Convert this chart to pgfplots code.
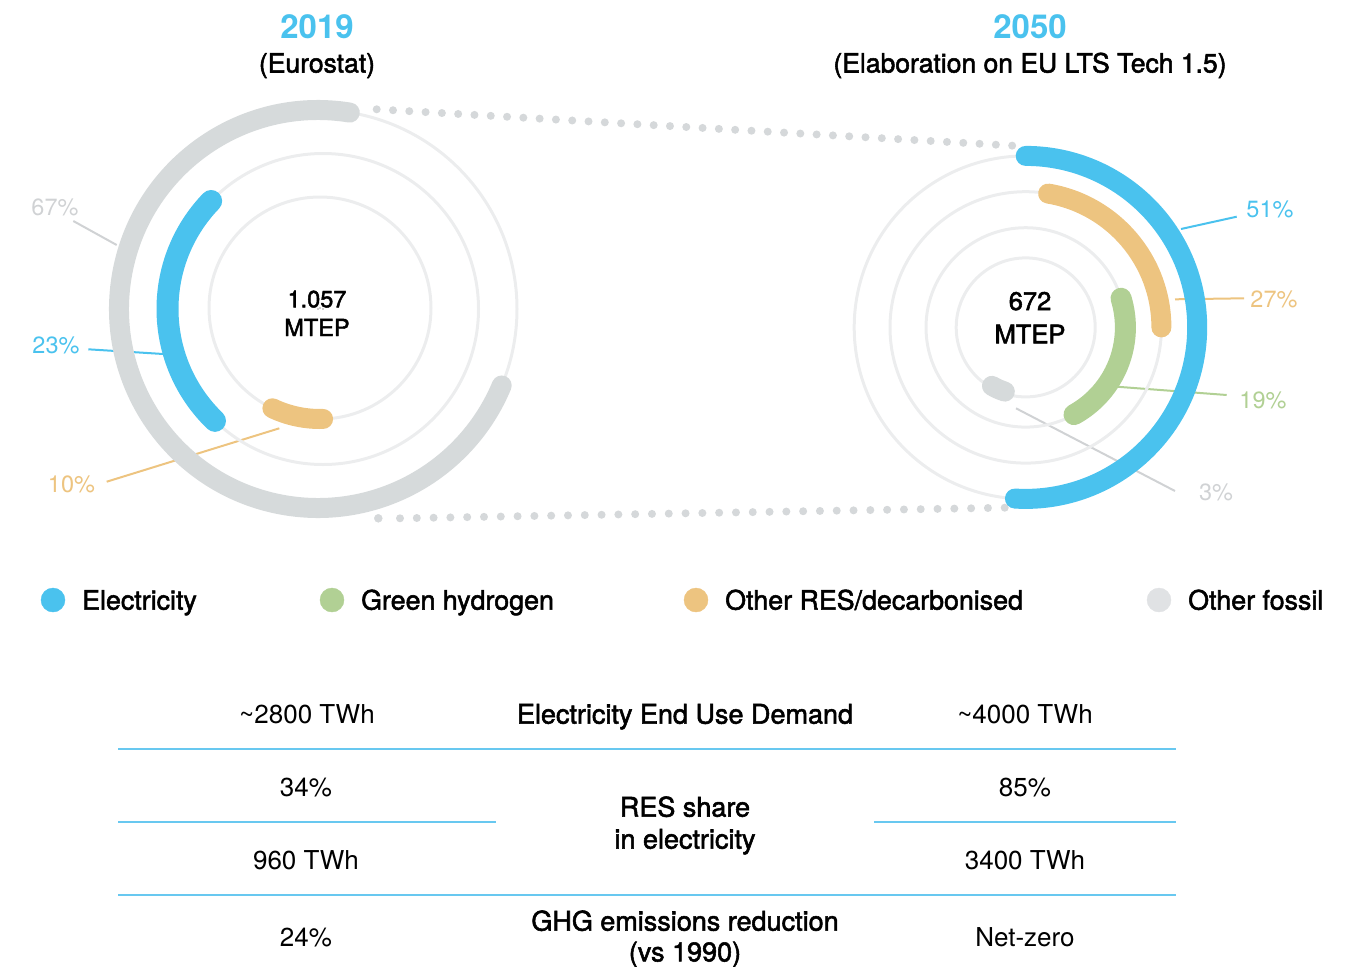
\documentclass[border=0pt]{standalone}
\usepackage{pgfplots}
\pgfplotsset{compat=1.18}
\usepackage{pgfplotstable}
\usepackage{fontspec}
\setmainfont{TeX Gyre Heros}
\newfontfamily\medfont[FakeBold=2]{TeX Gyre Heros}

\definecolor{elblue}{RGB}{74,194,238}
\definecolor{h2green}{RGB}{177,208,148}
\definecolor{resorange}{RGB}{237,196,128}
\definecolor{fosgray}{RGB}{214,218,219}
\definecolor{track}{RGB}{236,237,238}
\definecolor{labgray}{RGB}{208,210,212}
\definecolor{dotgray}{RGB}{213,216,218}
\definecolor{leggray}{RGB}{224,226,228}
\definecolor{tableblue}{RGB}{104,200,240}
% colour index used in the ring tables
\colorlet{arccol0}{track}
\colorlet{arccol1}{elblue}
\colorlet{arccol2}{h2green}
\colorlet{arccol3}{resorange}
\colorlet{arccol4}{fosgray}

% ring arcs: centre (x,y), radius r, start angle a, end angle b, width w, colour index c
\pgfplotstableread{
x      y      r      a      b      w   c  share
318    309    199    0      360    3   0  0
323    309    155.5  0      360    3   0  0
320    308    111    0      360    3   0  0
318    309    199    80.8   337.4  20  4  67
323    309    155.5  136    226    22  1  23
320    308    111    244.6  271.6  20  3  10
}\leftarcs

\pgfplotstableread{
x       y      r      a      b      w   c  share
1025.7  327.4  171.5  0      360    3   0  0
1025.7  327.4  135.7  0      360    3   0  0
1025.7  327.4  99.7   0      360    3   0  0
1025.7  327.4  69.5   0      360    3   0  0
1025.7  327.4  171.5  90     -93.6  20  1  51
1025.7  327.4  135.7  80.5   0      20  3  27
1025.7  327.4  99.7   17     -61    21  2  19
1025.7  327.4  67.5   -120   -108   20  4  3
}\rightarcs

\pgfplotsset{
  arcplot/.style={
    scatter, only marks, mark=*, mark size=0.01pt,
    mark options={draw=none,fill=none},
    visualization depends on={\thisrow{r} \as \arcr},
    visualization depends on={\thisrow{a} \as \arca},
    visualization depends on={\thisrow{b} \as \arcb},
    visualization depends on={\thisrow{w} \as \arcw},
    visualization depends on={\thisrow{c} \as \arcc},
    scatter/@pre marker code/.code={%
      \pgfmathtruncatemacro\arcci{\arcc}%
      \draw[draw=arccol\arcci, fill=none, line width=\arcw pt, line cap=round]
        (\arca:\arcr pt) arc[start angle=\arca, end angle=\arcb, radius=\arcr pt];
      \begin{scope}},
    scatter/@post marker code/.code={\end{scope}},
  },
}

\begin{document}
\begin{tikzpicture}
\begin{axis}[
  name=main,
  x=1pt, y=1pt,
  xmin=0, xmax=1361, ymin=0, ymax=967,
  y dir=reverse,
  hide axis, clip=false,
]
% rings
\addplot[arcplot] table[x=x,y=y] {\leftarcs};
\addplot[arcplot] table[x=x,y=y] {\rightarcs};

% dotted connectors
\addplot[dotgray, line width=8pt, line cap=round, dash pattern=on 0pt off 16.32pt]
  coordinates {(376.7,109.3) (1013.3,145.7)};
\addplot[dotgray, line width=8pt, line cap=round, dash pattern=on 0pt off 16.8pt]
  coordinates {(400,518.3) (1005,507.7)};
\addplot[only marks, mark=*, mark size=4pt, dotgray] coordinates {(378.3,518.3)};

% leader lines
\addplot[labgray, line width=2pt] coordinates {(73.3,221) (116.7,245)};
\addplot[elblue, line width=2pt] coordinates {(88.3,349.3) (163.3,354)};
\addplot[resorange, line width=2pt] coordinates {(106.7,481.7) (279.3,428.3)};
\addplot[elblue, line width=2pt] coordinates {(1181,229) (1236.7,216.7)};
\addplot[resorange, line width=2pt] coordinates {(1175,299.3) (1244,298.3)};
\addplot[h2green, line width=2pt] coordinates {(1116.7,386.7) (1226.7,395)};
\addplot[labgray, line width=2pt] coordinates {(1016,408.3) (1175,491)};

% percentage labels
\node[anchor=base, font=\fontsize{23.5}{28}\selectfont, text=labgray] at (55,215.5) {67\%};
\node[anchor=base, font=\fontsize{23.5}{28}\selectfont, text=elblue] at (56,353.3) {23\%};
\node[anchor=base, font=\fontsize{23.5}{28}\selectfont, text=resorange] at (71.5,492) {10\%};
\node[anchor=base, font=\fontsize{23.5}{28}\selectfont, text=elblue] at (1270,217) {51\%};
\node[anchor=base, font=\fontsize{23.5}{28}\selectfont, text=resorange] at (1274,307) {27\%};
\node[anchor=base, font=\fontsize{23.5}{28}\selectfont, text=h2green] at (1263,408) {19\%};
\node[anchor=base, font=\fontsize{23.5}{28}\selectfont, text=labgray] at (1216,500) {3\%};

% centre texts
\node[anchor=base, font=\fontsize{23.5}{28}\selectfont\medfont] at (317,307.3) {1.057};
\node[anchor=base, font=\fontsize{23.5}{28}\selectfont\medfont] at (317,336) {MTEP};
\node[anchor=base, font=\fontsize{25.5}{30}\selectfont\medfont] at (1030,310) {672};
\node[anchor=base, font=\fontsize{25.5}{30}\selectfont\medfont] at (1030,343.3) {MTEP};

% titles
\node[anchor=base, font=\fontsize{33}{38}\selectfont\bfseries, text=elblue] at (317,38.5) {2019};
\node[anchor=base, font=\fontsize{26.5}{30}\selectfont\medfont] at (317,72.5) {(Eurostat)};
\node[anchor=base, font=\fontsize{33}{38}\selectfont\bfseries, text=elblue] at (1030,38.5) {2050};
\node[anchor=base, font=\fontsize{26.5}{30}\selectfont\medfont] at (1030,72.5) {(Elaboration on EU LTS Tech 1.5)};

% legend
\addplot[only marks, mark=*, mark size=12pt, elblue] coordinates {(53,600)};
\addplot[only marks, mark=*, mark size=12pt, h2green] coordinates {(332,600)};
\addplot[only marks, mark=*, mark size=12pt, resorange] coordinates {(696,600)};
\addplot[only marks, mark=*, mark size=12pt, leggray] coordinates {(1159,600)};
\node[anchor=base west, inner sep=0pt, font=\fontsize{26.8}{31}\selectfont\medfont] at (82,609.6) {Electricity};
\node[anchor=base west, inner sep=0pt, font=\fontsize{26.8}{31}\selectfont\medfont] at (361,609.6) {Green hydrogen};
\node[anchor=base west, inner sep=0pt, font=\fontsize{26.8}{31}\selectfont\medfont] at (725,609.6) {Other RES/decarbonised};
\node[anchor=base west, inner sep=0pt, font=\fontsize{26.8}{31}\selectfont\medfont] at (1188,609.6) {Other fossil};

% table rules
\addplot[tableblue, line width=1.5pt] coordinates {(118,749) (1176,749)};
\addplot[tableblue, line width=1.5pt] coordinates {(118,822) (496,822)};
\addplot[tableblue, line width=1.5pt] coordinates {(874,822) (1176,822)};
\addplot[tableblue, line width=1.5pt] coordinates {(118,895) (1176,895)};

% table texts
\node[anchor=base, font=\fontsize{26}{31}\selectfont] at (307,723.4) {\textasciitilde2800 TWh};
\node[anchor=base, font=\fontsize{27}{31}\selectfont\medfont] at (685,723.6) {Electricity End Use Demand};
\node[anchor=base, font=\fontsize{26}{31}\selectfont] at (1025,723.4) {\textasciitilde4000 TWh};
\node[anchor=base, font=\fontsize{26}{31}\selectfont] at (306,796.4) {34\%};
\node[anchor=base, font=\fontsize{26}{31}\selectfont] at (1025,796.4) {85\%};
\node[anchor=base, font=\fontsize{27}{31}\selectfont\medfont] at (685,816.6) {RES share};
\node[anchor=base, font=\fontsize{27}{31}\selectfont\medfont] at (685,848.6) {in electricity};
\node[anchor=base, font=\fontsize{26}{31}\selectfont] at (306,869.4) {960 TWh};
\node[anchor=base, font=\fontsize{26}{31}\selectfont] at (1025,869.4) {3400 TWh};
\node[anchor=base, font=\fontsize{26}{31}\selectfont] at (306,946.4) {24\%};
\node[anchor=base, font=\fontsize{27}{31}\selectfont\medfont] at (685,930.6) {GHG emissions reduction};
\node[anchor=base, font=\fontsize{27}{31}\selectfont\medfont] at (685,961.4) {(vs 1990)};
\node[anchor=base, font=\fontsize{26}{31}\selectfont] at (1025,946.4) {Net-zero};
\end{axis}
\pgfresetboundingbox
\path (main.south west) rectangle (main.north east);
\end{tikzpicture}
\end{document}
